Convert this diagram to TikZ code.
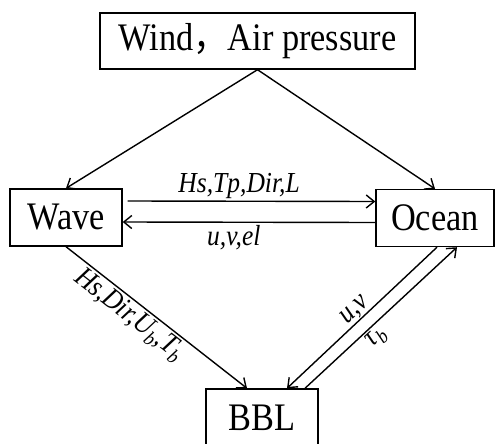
\documentclass[tikz,border=0pt]{standalone}
\usepackage{fontspec}
\setmainfont{Liberation Serif}[FakeStretch=0.88]
\newfontfamily\cjk{Noto Sans CJK SC}[FakeStretch=0.88]
\usetikzlibrary{arrows.meta}
\begin{document}
\begin{tikzpicture}[x=1pt,y=-1pt]
	% Styles (MODIFIABLES)
	\tikzstyle{fleche}=[-{Straight Barb[length=8pt,width=13pt]},line width=1.4pt]
	\tikzstyle{boite}=[draw,line width=1.4pt,inner sep=0pt,minimum height=57pt,font=\fontsize{39}{44}\selectfont]
	\tikzstyle{etiquette}=[midway,above,inner sep=2pt,font=\fontsize{29}{33}\selectfont\itshape]
	\tikzstyle{etiquette1}=[midway,below,inner sep=2pt,font=\fontsize{29}{33}\selectfont\itshape]
	% Dimensions (MODIFIABLES)
	\def\EcartHaut{16.5pt}
	\def\EcartBas{-4.5pt}
	\useasboundingbox (0,0) rectangle (495,444);
	% Noeuds
	\node[boite,minimum width=315pt,minimum height=56pt] (Vent) at (257.5,41) {Wind{\cjk ，}Air pressure};
	\node[boite,minimum width=112pt] (Vague) at (66,217.5) {Wave};
	\node[boite,minimum width=118pt] (Ocean) at (435,218) {Ocean};
	\node[boite,minimum width=112pt] (BBL) at (262,417.5) {BBL};
	% Arcs
	\draw[fleche] (Vent.south)--(Vague.north);
	\draw[fleche] (Vent.south)--(Ocean.north);
	\draw[fleche] ([xshift=5pt,yshift=\EcartHaut]Vague.east)--([yshift=\EcartHaut]Ocean.west)
		node[etiquette,pos=0.45] {Hs,Tp,Dir,L};
	\draw[fleche] ([yshift=\EcartBas]Ocean.west)--([yshift=\EcartBas]Vague.east)
		node[etiquette1,pos=0.56] {u,v,el};
	\draw[fleche] (Vague.south)--([xshift=-15pt]BBL.north)
		node[etiquette1,sloped,pos=0.40] {Hs,Dir,U\textsubscript{b},T\textsubscript{b}};
	\draw[fleche] ([xshift=2pt]Ocean.south)--([xshift=25pt]BBL.north)
		node[etiquette,sloped,pos=0.5,inner sep=0pt] {u,v};
	\draw[fleche] ([xshift=43pt]BBL.north)--([xshift=22pt]Ocean.south)
		node[etiquette1,sloped,pos=0.42] {τ\textsubscript{b}};
\end{tikzpicture}
\end{document}
